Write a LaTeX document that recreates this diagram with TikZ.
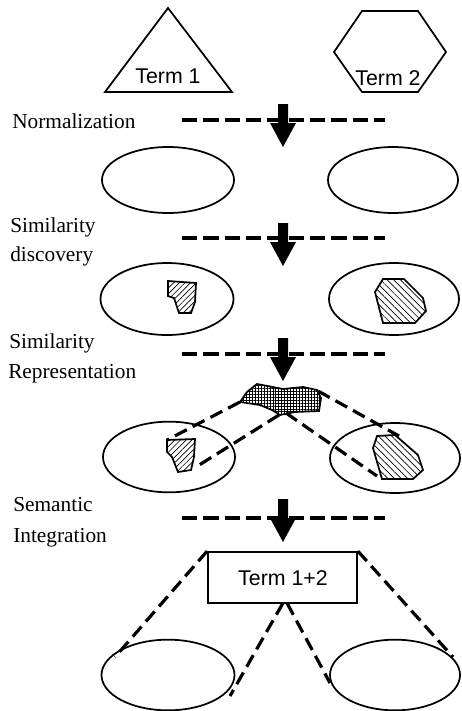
\documentclass[tikz,border=0pt]{standalone}
\usepackage{fontspec}
\setmainfont{Liberation Serif}
\newfontfamily\arialfont{Liberation Sans}
\usetikzlibrary{patterns.meta,shapes.geometric}
\begin{document}
\begin{tikzpicture}[x=0.75pt,y=-0.75pt,
  outline/.style={draw=black,line width=1.3pt,line join=miter},
  ell/.style={ellipse,draw=black,line width=1.3pt,inner sep=0pt},
  sepline/.style={line width=2.6pt,dash pattern=on 11.5pt off 4.5pt},
  link/.style={line width=2.4pt,dash pattern=on 10pt off 5pt},
  steplabel/.style={anchor=base west,font=\fontsize{16}{19}\selectfont,inner sep=0pt},
  termlabel/.style={anchor=base,font=\arialfont\fontsize{16}{19}\selectfont,inner sep=0pt},
  hatchL/.style={outline,pattern={Lines[angle=45,distance=3pt,line width=0.5pt]}},
  hatchR/.style={outline,pattern={Lines[angle=-45,distance=3.5pt,line width=0.5pt]}},
  crosshatch/.style={outline,pattern={Hatch[angle=0,distance=2.2pt,line width=0.45pt]}},
  darrow/.pic={\fill (-5,0)--(5,0)--(5,19)--(13,19)--(0,43)--(-13,19)--(-5,19)--cycle;}
]
\useasboundingbox (0,0) rectangle (461,711);

% top terms
\draw[outline] (168,8) -- (232,92) -- (105,92) -- cycle;
\node[termlabel] (t1) at (168,83) {Term 1};
\draw[outline] (362,11) -- (418,11) -- (446,52) -- (418,92) -- (362,92) -- (334,52) -- cycle;
\node[termlabel] (t2) at (388,85) {Term 2};

% step labels
\node[steplabel] (l1) at (12,128) {Normalization};
\node[steplabel] (l2a) at (10,232) {Similarity};
\node[steplabel] (l2b) at (10,261) {discovery};
\node[steplabel] (l3a) at (9,348) {Similarity};
\node[steplabel] (l3b) at (8,378) {Representation};
\node[steplabel] (l4a) at (13,511) {Semantic};
\node[steplabel] (l4b) at (13,542) {Integration};

% separators
\coordinate (s1a) at (182,120); \coordinate (s1b) at (385,120);
\coordinate (s2a) at (182,238); \coordinate (s2b) at (385,238);
\coordinate (s3a) at (182,354); \coordinate (s3b) at (385,354);
\coordinate (s4a) at (182,518); \coordinate (s4b) at (385,518);
\draw[sepline] (s1a) -- (s1b);
\draw[sepline] (s2a) -- (s2b);
\draw[sepline] (s3a) -- (s3b);
\draw[sepline] (s4a) -- (s4b);
\pic at (283,104) {darrow};
\pic at (283,223) {darrow};
\pic at (283,338) {darrow};
\pic at (283,499) {darrow};

% row 1
\node[ell,minimum width=99pt,minimum height=49.5pt] (e1L) at (168,180) {};
\node[ell,minimum width=97.5pt,minimum height=49.5pt] (e1R) at (393,180) {};

% row 2
\node[ell,minimum width=99.75pt,minimum height=54pt] (e2L) at (167,299) {};
\node[ell,minimum width=97.5pt,minimum height=54pt] (e2R) at (394,299) {};
\draw[hatchL] (168,281) -- (196,283) -- (195,302) -- (191,313) -- (179,313) -- (174,298) -- (168,296) -- cycle;
\draw[hatchR] (383,279) -- (404,279) -- (423,298) -- (426,311) -- (415,323) -- (383,323) -- (375,292) -- cycle;

% row 3
\node[ell,minimum width=99pt,minimum height=53pt] (e3L) at (169,457) {};
\node[ell,minimum width=97.5pt,minimum height=52.5pt] (e3R) at (395,458) {};
\draw[hatchL] (167,440) -- (195,439) -- (194,457) -- (191,470) -- (178,472) -- (172,457) -- (167,452) -- cycle;
\draw[hatchR] (377,436) -- (395,435) -- (418,455) -- (423,470) -- (413,479) -- (382,479) -- (373,448) -- cycle;
\draw[crosshatch] (257,384) -- (283,389) -- (303,387) -- (317,390) -- (321,398) -- (319,411) -- (295,412) -- (280,415) -- (272,410) -- (260,405) -- (240,402) -- (247,392) -- cycle;
\coordinate (cL) at (240,402);
\coordinate (cB1) at (279,415);
\coordinate (cB2) at (286,413);
\coordinate (cR) at (318,391);
\coordinate (pLt) at (167,440);
\coordinate (pLb) at (196,467);
\coordinate (pRt) at (399,436);
\coordinate (pRb) at (377,476);
\draw[link] (cL) -- (pLt);
\draw[link] (cB1) -- (pLb);
\draw[link] (cR) -- (pRt);
\draw[link] (cB2) -- (pRb);

% row 4
\node[draw=black,line width=1.3pt,minimum width=111.75pt,minimum height=38.25pt,inner sep=0pt] (box) at (282.5,577.5) {};
\node[termlabel] (t12) at (283,585) {Term 1+2};
\node[ell,minimum width=99.75pt,minimum height=53pt] (e5L) at (168,675) {};
\node[ell,minimum width=97.5pt,minimum height=53pt] (e5R) at (395,675) {};
\coordinate (bb1) at (283,603);
\coordinate (bb2) at (287,603);
\coordinate (q1) at (115,657);
\coordinate (q2) at (230,696);
\coordinate (q3) at (330,683);
\coordinate (q4) at (453,657);
\draw[link] (box.north west) -- (q1);
\draw[link] (bb1) -- (q2);
\draw[link] (bb2) -- (q3);
\draw[link] (box.north east) -- (q4);
\end{tikzpicture}
\end{document}
